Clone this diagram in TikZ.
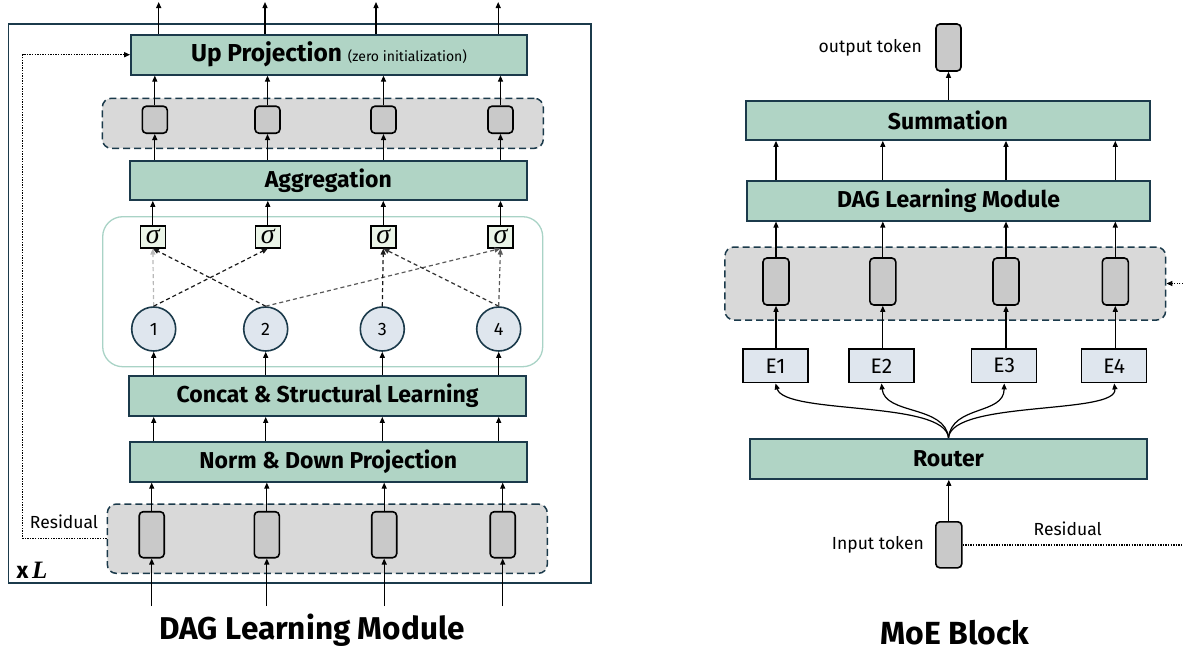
\documentclass[tikz,border=0pt]{standalone}
\usepackage{fontspec}
\setmainfont{Fira Sans}
\newfontfamily\mathlike{Liberation Serif}
\usetikzlibrary{arrows.meta}
\definecolor{navy}{HTML}{1B3A4B}
\definecolor{boxgreen}{HTML}{B0D4C5}
\definecolor{regiongray}{HTML}{D9D9D9}
\definecolor{tokengray}{HTML}{C9C9C9}
\definecolor{circlefill}{HTML}{DFE6EE}
\definecolor{sigmafill}{HTML}{EBF5E8}
\definecolor{tealborder}{HTML}{A9D3C6}
\begin{document}
\begin{tikzpicture}[x=1pt,y=-1pt,
  greenbox/.style={draw=navy, line width=1.8pt, fill=boxgreen, inner sep=0pt,
    font=\fontsize{23}{23}\selectfont\bfseries},
  tokenbox/.style={draw=black, line width=1.6pt, fill=tokengray, rounded corners=4pt,
    inner sep=0pt, minimum width=25pt, minimum height=46pt},
  sqbox/.style={tokenbox, minimum height=27pt},
  regionbox/.style={draw=navy, dash pattern=on 7pt off 4pt, line width=1.5pt,
    fill=regiongray, rounded corners=9pt, inner sep=0pt},
  sigbox/.style={draw=black, line width=1.5pt, fill=sigmafill, inner sep=0pt,
    minimum width=25pt, minimum height=22pt, font=\fontsize{28}{28}\selectfont\mathlike\itshape},
  circ/.style={circle, draw=navy, line width=1.6pt, fill=circlefill, inner sep=0pt,
    minimum size=44pt, font=\fontsize{18}{18}\selectfont},
  ebox/.style={draw=black, line width=1.5pt, fill=circlefill, inner sep=0pt,
    minimum width=65pt, minimum height=33.7pt, font=\fontsize{21}{21}\selectfont},
  arr/.style={-{Triangle[length=6pt,width=5pt]}, line width=1.2pt},
  darr/.style={-{Triangle[length=6pt,width=5pt]}, line width=1.2pt, dash pattern=on 4pt off 3pt},
  resid/.style={line width=1.4pt, dash pattern=on 1.3pt off 1.3pt},
  small/.style={font=\fontsize{17.5}{17.5}\selectfont, inner sep=0pt},
  caption/.style={font=\fontsize{31.5}{31.5}\selectfont\bfseries, inner sep=0pt}
]
\useasboundingbox (0,0) rectangle (1183,651);

% ================= LEFT PANEL =================
\draw[navy, line width=1.5pt] (8.5,24) rectangle (591,583);

\node[regionbox, minimum width=441pt, minimum height=50pt] (treg) at (322.8,123.3) {};
\node[draw=tealborder, line width=1.3pt, rounded corners=20pt, minimum width=440pt,
  minimum height=150pt, inner sep=0pt] (dagreg) at (322.7,291.7) {};
\node[regionbox, minimum width=440pt, minimum height=69.3pt] (breg) at (327.3,538.7) {};

\node[greenbox, minimum width=396pt, minimum height=40pt] (up) at (329,54.7)
  {\fontsize{24.5}{24.5}\selectfont Up Projection \fontsize{14}{14}\selectfont\mdseries(zero initialization)};
\node[greenbox, minimum width=396.7pt, minimum height=39.3pt] (agg) at (328.3,180.3) {Aggregation};
\node[greenbox, minimum width=396.4pt, minimum height=40pt] (concat) at (327.5,396) {Concat \& Structural Learning};
\node[greenbox, minimum width=396.7pt, minimum height=40pt] (norm) at (328.3,461.7) {Norm \& Down Projection};

\foreach \n/\x in {A/154.8,B/267.5,C/383.5,D/500.5}
  \node[sqbox] (sq\n) at (\x,119.7) {};
\foreach \n/\x in {A/152.8,B/267.8,C/383.3,D/500.5}
  \node[sigbox] (sg\n) at (\x,236.8) {\raisebox{-1pt}{σ}};
\foreach \n/\x/\t in {A/153.7/1,B/265.7/2,C/382.3/3,D/498.7/4}
  \node[circ] (c\n) at (\x,329) {\t};
\foreach \n/\x in {A/151.7,B/266.8,C/384.2,D/502.7}
  \node[tokenbox] (tk\n) at (\x,534.7) {};

\foreach \n/\x in {A/158.7,B/265,C/376,D/498.2}
  \coordinate (out\n) at (\x,2);
\foreach \n/\x in {A/151.7,B/266.8,C/384.2,D/502.7}
  \coordinate (in\n) at (\x,606);

\foreach \n in {A,B,C,D}{
  \draw[arr] (out\n |- up.north) -- (out\n);
  \draw[arr] (sq\n.north) -- (sq\n.north |- up.south);
  \draw[arr] (sq\n.south |- agg.north) -- (sq\n.south);
  \draw[arr] (sg\n.north) -- (sg\n.north |- agg.south);
  \draw[arr] (c\n.south |- concat.north) -- (c\n.south);
  \draw[arr] (c\n |- norm.north) -- (c\n |- concat.south);
  \draw[arr] (tk\n.north) -- (tk\n.north |- norm.south);
  \draw[arr] (in\n) -- (tk\n.south);
}

% DAG edges
\draw[darr, color=black!28] (cA.north) -- (sgA.south);
\draw[darr, color=black!90] (cA.north) -- (sgB.south);
\draw[darr, color=black!90] (cB.north) -- (sgA.south);
\draw[darr, color=black!65] (cB.north) -- (sgD.south);
\draw[darr, color=black!90] (cC.north) -- (sgC.south);
\draw[darr, color=black!80] (cD.north) -- (sgC.south);
\draw[darr, color=black!65] (cD.north) -- (sgD.south);

% Residual
\coordinate (rescorner) at (22.7,54.7);
\draw[resid, -{Triangle[length=6pt,width=5pt]}] (breg.west) -| (rescorner) -- (up.west);
\node[small] (reslabel) at (64,521.7) {Residual};
\node[inner sep=0pt, font=\fontsize{23}{23}\selectfont\bfseries] (xl) at (32,570)
  {x\,{\mathlike\bfseries\itshape\fontsize{25}{25}\selectfont L}};

\node[caption] (cap1) at (312,630) {DAG Learning Module};

% ================= RIGHT PANEL =================
\node[regionbox, minimum width=440.7pt, minimum height=73pt] (mreg) at (945.3,283.5) {};

\node[tokenbox, minimum height=47pt] (outtok) at (948.5,47.5) {};
\node[small, anchor=east] (outlabel) at (922,48) {output token};
\node[greenbox, minimum width=404.3pt, minimum height=39.3pt] (sum) at (947.9,120.3) {Summation};
\node[greenbox, minimum width=403pt, minimum height=39.7pt] (dagm) at (948.5,200.8) {DAG Learning Module};

\foreach \n/\x in {A/776,B/882.8,C/1006,D/1115.3}
  \node[tokenbox, minimum width=26pt, minimum height=47pt] (mt\n) at (\x,281.5) {};
\foreach \n/\x/\t in {A/775.5/E1,B/881.5/E2,C/1004.2/E3,D/1114.2/E4}
  \node[ebox] (e\n) at (\x,365.8) {\t};

\node[greenbox, minimum width=397pt, minimum height=40.3pt] (router) at (948.5,458.8) {Router};
\node[tokenbox, minimum width=26pt] (intok) at (948.8,544.8) {};
\node[small, anchor=east] (inlabel) at (924,545) {Input token};

\draw[arr] (sum.north -| outtok) -- (outtok.south);
\foreach \n in {A,B,C,D}{
  \draw[arr] (mt\n.north |- dagm.north) -- (mt\n.north |- sum.south);
  \draw[arr] (mt\n.north) -- (mt\n.north |- dagm.south);
  \draw[arr] (mt\n.south |- e\n.north) -- (mt\n.south);
}
\draw[arr] (router.north) .. controls (945,400) and (785,415) .. (eA.south);
\draw[arr] (router.north) .. controls (945,405) and (885,415) .. (eB.south);
\draw[arr] (router.north) .. controls (952,405) and (1004,415) .. (eC.south);
\draw[arr] (router.north) .. controls (952,400) and (1118,415) .. (eD.south);
\draw[arr] (intok.north) -- (intok.north |- router.south);

\coordinate (resR) at (1183,544.8);
\coordinate (resR2) at (1183,283.5);
\draw[resid] (intok.east) -- (resR);
\draw[resid, -{Triangle[length=6pt,width=5pt]}] (resR2) -- (mreg.east);
\node[small] (reslabel2) at (1067.7,529) {Residual};

\node[caption, font=\fontsize{32}{32}\selectfont\bfseries] (cap2) at (955,633) {MoE Block};
\end{tikzpicture}
\end{document}
